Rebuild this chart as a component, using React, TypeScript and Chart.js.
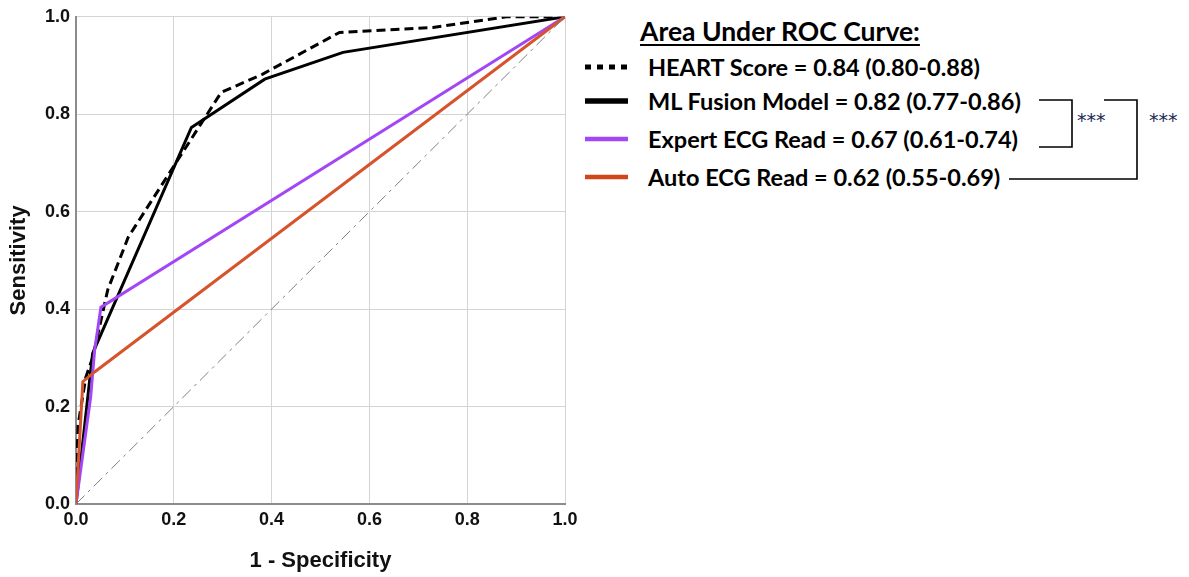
import React, { useEffect, useRef } from "react";
import { Chart, registerables } from "chart.js";

Chart.register(...registerables);

const heartX = [0, 0.004, 0.02, 0.034, 0.065, 0.107, 0.297, 0.381, 0.539, 0.73, 0.88, 1];
const heartY = [0, 0.16, 0.26, 0.3, 0.44, 0.548, 0.845, 0.882, 0.968, 0.978, 1.0, 1.0];
const mlX = [0, 0.034, 0.236, 0.386, 0.546, 1];
const mlY = [0, 0.309, 0.773, 0.872, 0.927, 1];
const expertX = [0, 0.03, 0.038, 0.051, 1];
const expertY = [0, 0.22, 0.315, 0.404, 1];
const autoX = [0, 0.014, 0.038, 1];
const autoY = [0, 0.251, 0.271, 1];
const refX = [0, 1];
const refY = [0, 1];
const tickValues = [0, 0.2, 0.4, 0.6, 0.8, 1.0];

const legendTitle = "Area Under ROC Curve:";
const legendLabels = [
  "HEART Score = 0.84 (0.80-0.88)",
  "ML Fusion Model = 0.82 (0.77-0.86)",
  "Expert ECG Read = 0.67 (0.61-0.74)",
  "Auto ECG Read = 0.62 (0.55-0.69)",
];
const sigLabel = "***";

const BLACK = "#000000";
const PURPLE = "#A346F5";
const ORANGE = "#D6532C";

const pts = (xs: number[], ys: number[]) => xs.map((x, i) => ({ x, y: ys[i] }));

export default function App() {
  const ref = useRef<HTMLCanvasElement | null>(null);
  useEffect(() => {
    document.body.style.margin = "0";
    const ctx = ref.current!;
    const tickFont = { family: "'Liberation Sans', Arial, sans-serif", size: 18, weight: "bold" as const };
    const titleFont = { family: "'Liberation Sans', Arial, sans-serif", size: 22, weight: "bold" as const };
    const chart = new Chart(ctx, {
      type: "line",
      data: {
        datasets: [
          {
            data: pts(refX, refY),
            borderColor: "#808080",
            borderWidth: 1,
            borderDash: [12, 5, 3, 5],
            pointRadius: 0,
          },
          { data: pts(autoX, autoY), borderColor: ORANGE, borderWidth: 3, pointRadius: 0 },
          { data: pts(expertX, expertY), borderColor: PURPLE, borderWidth: 3, pointRadius: 0 },
          { data: pts(mlX, mlY), borderColor: BLACK, borderWidth: 3, pointRadius: 0 },
          {
            data: pts(heartX, heartY),
            borderColor: BLACK,
            borderWidth: 3,
            borderDash: [9, 5],
            pointRadius: 0,
          },
        ],
      },
      options: {
        animation: false,
        responsive: false,
        maintainAspectRatio: false,
        layout: { padding: { left: 0, right: 35, top: 16, bottom: 0 } },
        plugins: { legend: { display: false }, tooltip: { enabled: false } },
        elements: { line: { tension: 0 } },
        scales: {
          x: {
            type: "linear",
            min: 0,
            max: 1,
            afterBuildTicks: (s: any) => {
              s.ticks = tickValues.map((v) => ({ value: v }));
            },
            afterFit: (s: any) => {
              s.height = 73;
            },
            ticks: {
              color: "#111",
              font: tickFont,
              padding: 5,
              callback: (v: any) => Number(v).toFixed(1),
            },
            grid: { color: "#d4d4d4", lineWidth: 1, drawTicks: false },
            border: { color: "#8c8c8c", width: 2 },
            title: {
              display: true,
              text: "1 - Specificity",
              color: "#111",
              font: titleFont,
              padding: { top: 0, bottom: 3 },
            },
          },
          y: {
            type: "linear",
            min: 0,
            max: 1,
            afterBuildTicks: (s: any) => {
              s.ticks = tickValues.map((v) => ({ value: v }));
            },
            afterFit: (s: any) => {
              s.width = 76;
            },
            ticks: {
              color: "#111",
              font: tickFont,
              padding: 6,
              callback: (v: any) => Number(v).toFixed(1),
            },
            grid: { color: "#d4d4d4", lineWidth: 1, drawTicks: false },
            border: { color: "#8c8c8c", width: 2 },
            title: {
              display: true,
              text: "Sensitivity",
              color: "#111",
              font: titleFont,
              padding: { top: 6, bottom: 0 },
            },
          },
        },
      },
    });
    return () => chart.destroy();
  }, []);

  const legendFont = "Lato, 'Open Sans', sans-serif";
  const rowY = [67, 101, 139, 177];
  const textStyle = (y: number): React.CSSProperties => ({
    position: "absolute",
    left: 648,
    top: y - 15,
    height: 30,
    lineHeight: "30px",
    fontFamily: legendFont,
    fontWeight: 700,
    fontSize: 23.5,
    color: "#000",
    whiteSpace: "nowrap",
  });

  const starStyle = (x: number): React.CSSProperties => ({
    position: "absolute",
    left: x,
    top: 110,
    height: 20,
    lineHeight: "20px",
    fontFamily: "'DejaVu Sans', sans-serif",
    fontSize: 19,
    color: "#1c2a55",
    whiteSpace: "nowrap",
  });

  return (
    <div style={{ position: "absolute", left: 0, top: 0, width: 1189, height: 577, background: "#fff" }}>
      <canvas ref={ref} width={600} height={577} style={{ position: "absolute", left: 0, top: 0, width: 600, height: 577 }} />
      <div
        style={{
          position: "absolute",
          left: 640,
          top: 16,
          height: 30,
          lineHeight: "30px",
          fontFamily: legendFont,
          fontWeight: 700,
          fontSize: 26.5,
          textDecoration: "underline",
          textUnderlineOffset: 3,
          whiteSpace: "nowrap",
          color: "#000",
        }}
      >
        {legendTitle}
      </div>
      {legendLabels.map((t, i) => (
        <div key={t} style={textStyle(rowY[i])}>
          {t}
        </div>
      ))}
      <div style={starStyle(1077)}>{sigLabel}</div>
      <div style={starStyle(1149)}>{sigLabel}</div>
      <svg width={1189} height={577} style={{ position: "absolute", left: 0, top: 0, pointerEvents: "none" }}>
        <line x1={585} x2={628} y1={67} y2={67} stroke={BLACK} strokeWidth={5} strokeDasharray="6 6" />
        <line x1={585} x2={628} y1={101} y2={101} stroke={BLACK} strokeWidth={5.5} />
        <line x1={585} x2={628} y1={139} y2={139} stroke={PURPLE} strokeWidth={4.5} />
        <line x1={585} x2={628} y1={177} y2={177} stroke="#D0461A" strokeWidth={4.5} />
        <polyline points="1039,100 1072,100 1072,147 1039,147" fill="none" stroke="#000" strokeWidth={1.6} />
        <polyline points="1104,100 1137,100 1137,179 1009,179" fill="none" stroke="#000" strokeWidth={1.6} />
      </svg>
    </div>
  );
}
